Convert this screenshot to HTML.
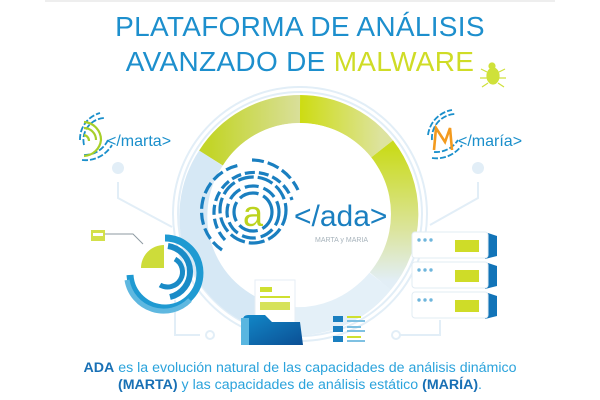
<!DOCTYPE html>
<html><head><meta charset="utf-8"><style>
html,body{margin:0;padding:0;background:#fff;}
body{width:600px;height:400px;overflow:hidden;position:relative;font-family:"Liberation Sans",sans-serif;}
.t{position:absolute;left:0;width:600px;text-align:center;color:#1d8fcd;font-size:28px;letter-spacing:0.3px;line-height:34px;}
.b{position:absolute;left:0;width:600px;text-align:center;color:#2ba3dc;font-size:14.2px;line-height:17px;}
.b strong{color:#1870b5;}
</style></head><body>
<div style="position:absolute;left:45px;top:0;width:510px;height:2px;background:#eee"></div>
<div class="t" style="top:10px">PLATAFORMA DE ANÁLISIS</div>
<div class="t" style="top:45px">AVANZADO DE <span style="color:#cfdc26">MALWARE</span></div>
<svg width="600" height="400" style="position:absolute;left:0;top:0">
<defs>
<linearGradient id="gA" x1="0" x2="1"><stop offset="0" stop-color="#c3d52a"/><stop offset="1" stop-color="#d9df9a"/></linearGradient>
<linearGradient id="gB" x1="0" x2="1"><stop offset="0" stop-color="#cddc12"/><stop offset="1" stop-color="#dde3a0"/></linearGradient>
<linearGradient id="gC" x1="0" y1="0" x2="0" y2="1"><stop offset="0" stop-color="#cadb1e"/><stop offset="0.6" stop-color="#dbe49a"/><stop offset="1" stop-color="#e2eef6"/></linearGradient>
<linearGradient id="gF" x1="0" y1="0" x2="1" y2="1"><stop offset="0" stop-color="#1289c9"/><stop offset="1" stop-color="#0b4f94"/></linearGradient>
</defs>
<g stroke="#e2eef7" stroke-width="2" fill="none">
<circle cx="300" cy="214" r="127"/>
<circle cx="300" cy="214" r="122"/>
<polyline points="118,182 118,198 172,227"/>
<polyline points="478,182 478,198 430,225"/>
<polyline points="175,300 175,335 200,335"/>
<polyline points="440,320 440,335 400,335"/>
</g>
<circle cx="118" cy="168" r="6" fill="#e2eef7"/>
<circle cx="478" cy="168" r="6" fill="#e2eef7"/>
<circle cx="210" cy="335" r="4" fill="none" stroke="#e2eef7" stroke-width="2"/>
<circle cx="396" cy="335" r="4" fill="none" stroke="#e2eef7" stroke-width="2"/>
<g fill="none" stroke-width="28">
<path d="M282,320 A105,105 0 0 1 211,158" stroke="#d6e8f5"/>
<path d="M211,158 A105,105 0 0 1 300,109" stroke="url(#gA)"/>
<path d="M300,109 A105,105 0 0 1 382,149" stroke="url(#gB)"/>
<path d="M382,149 A105,105 0 0 1 380,281" stroke="url(#gC)"/>
<path d="M380,281 A105,105 0 0 1 282,320" stroke="#e4f0f8"/>
</g>
<circle cx="300" cy="214" r="91" fill="#fff"/>
<g fill="none" stroke="#1a7fc0" stroke-width="3.2" stroke-dasharray="12 4">
<circle cx="253" cy="212" r="19" stroke-dasharray="20 5"/>
<circle cx="253" cy="212" r="26" stroke-dasharray="14 5"/>
<circle cx="253" cy="210" r="33" stroke-dasharray="16 4"/>
<path d="M225,240 A40,40 0 1 1 292,200" stroke-dasharray="10 4"/>
<path d="M222,250 A47,47 0 0 1 240,165 M252,160 A52,52 0 0 1 298,190" stroke-dasharray="12 4"/>
</g>
<text x="253" y="226" text-anchor="middle" font-size="36" fill="#bcd31e" font-family="Liberation Sans">a</text>
<text x="294" y="226" font-size="30" fill="#1a7fc0" font-family="Liberation Sans">&lt;/ada&gt;</text>
<text x="315" y="242" font-size="7" fill="#a7b3bb" font-family="Liberation Sans">MARTA y MARIA</text>
<g fill="none" stroke="#1a8fcb" stroke-width="1.8" stroke-dasharray="6 2">
<path d="M84,145 A22,22 0 0 1 104,118"/><path d="M80,140 A27,27 0 0 1 100,113"/>
<path d="M84,155 A26,26 0 0 0 108,140"/><path d="M82,160 A31,31 0 0 0 112,145"/>
</g>
<g fill="none" stroke="#a7cf2a" stroke-width="2.2">
<path d="M84,128 A12,12 0 0 1 96,140"/><path d="M84,135 A6,6 0 0 1 89,141"/><path d="M84,122 A18,18 0 0 1 101,140 A18,18 0 0 1 84,156"/>
</g>
<text x="107" y="146" font-size="16" fill="#1a8fcb">&lt;/marta&gt;</text>
<g fill="none" stroke="#1a8fcb" stroke-width="1.8" stroke-dasharray="6 2">
<path d="M432,140 A24,24 0 0 1 455,114"/><path d="M428,135 A29,29 0 0 1 452,110"/>
<path d="M434,152 A26,26 0 0 0 458,140"/><path d="M432,158 A31,31 0 0 0 462,145"/>
</g>
<path d="M434,150 L436,128 L445,142 L450,128 L452,150" fill="none" stroke="#f39a1e" stroke-width="2.6"/>
<text x="458" y="146" font-size="16" fill="#1a8fcb">&lt;/maría&gt;</text>
<g fill="#cfe13a" stroke="#cfe13a" stroke-width="1.2">
<ellipse cx="493" cy="76" rx="6" ry="8"/><circle cx="492" cy="66" r="3"/>
<path d="M487,72 L481,69 M487,78 L480,78 M488,83 L482,87 M499,72 L505,69 M499,78 L506,78 M498,83 L504,87" fill="none"/>
</g>
<rect x="91" y="230" width="14" height="11" fill="#d3e04a"/><rect x="93" y="233" width="10" height="3" fill="#fff"/>
<polyline points="105,234 133,234 143,244" fill="none" stroke="#8e9aa2" stroke-width="1"/>
<g fill="none">
<path d="M165,238 A35,35 0 1 1 130,275" stroke="#1f9ad2" stroke-width="7"/>
<path d="M127,280 A37,37 0 0 0 190,300" stroke="#5fb8e0" stroke-width="5"/>
<path d="M168,246 A26,26 0 0 1 170,297" stroke="#1a8bc7" stroke-width="6"/>
<path d="M175,259 A15,15 0 0 1 160,285" stroke="#1a8bc7" stroke-width="5"/>
</g>
<path d="M164,268 L164,245 A23,23 0 0 0 141,268 Z" fill="#cddc3a"/>
<rect x="255" y="280" width="40" height="44" fill="#fff" stroke="#e6eef4"/>
<rect x="260" y="287" width="12" height="5" fill="#cfe030"/>
<rect x="260" y="296" width="30" height="2" fill="#cfe030"/>
<rect x="260" y="302" width="30" height="8" fill="#d6e25a"/>
<path d="M243,345 L243,320 Q243,315 248,315 L265,315 L272,322 L300,322 L303,345 Z" fill="url(#gF)"/>
<rect x="241" y="318" width="8" height="27" fill="#59b6e0"/>
<g fill="#1a7fc0"><rect x="333" y="316" width="10" height="6"/><rect x="333" y="326" width="10" height="6"/><rect x="333" y="336" width="10" height="6"/></g>
<g fill="#cfe030"><rect x="347" y="316" width="14" height="2"/><rect x="347" y="336" width="14" height="2"/></g>
<g fill="#7fc1e2"><rect x="347" y="320" width="18" height="2"/><rect x="347" y="326" width="14" height="2"/><rect x="347" y="330" width="18" height="2"/><rect x="347" y="340" width="18" height="2"/></g>
<g>
<path d="M485,232 L497,236 L497,256 L485,259 Z" fill="#1274b8"/>
<rect x="412" y="232" width="76" height="26" rx="3" fill="#fff" stroke="#e2ecf3"/>
<path d="M485,262 L497,266 L497,286 L485,289 Z" fill="#1274b8"/>
<rect x="412" y="262" width="76" height="26" rx="3" fill="#fff" stroke="#e2ecf3"/>
<path d="M485,292 L497,296 L497,316 L485,319 Z" fill="#1274b8"/>
<rect x="412" y="292" width="76" height="26" rx="3" fill="#fff" stroke="#e2ecf3"/>
</g>
<g fill="#cfdc28"><rect x="455" y="240" width="24" height="12"/><rect x="455" y="270" width="24" height="12"/><rect x="455" y="300" width="24" height="12"/></g>
<g fill="#6fb6dc"><circle cx="419" cy="240" r="1.7"/><circle cx="425" cy="240" r="1.7"/><circle cx="431" cy="240" r="1.7"/>
<circle cx="419" cy="270" r="1.7"/><circle cx="425" cy="270" r="1.7"/><circle cx="431" cy="270" r="1.7"/>
<circle cx="419" cy="300" r="1.7"/><circle cx="425" cy="300" r="1.7"/><circle cx="431" cy="300" r="1.7"/></g>
</svg>
<div class="b" style="top:360px"><strong>ADA</strong> es la evolución natural de las capacidades de análisis dinámico</div>
<div class="b" style="top:377px"><strong>(MARTA)</strong> y las capacidades de análisis estático <strong>(MARÍA)</strong>.</div>
</body></html>
